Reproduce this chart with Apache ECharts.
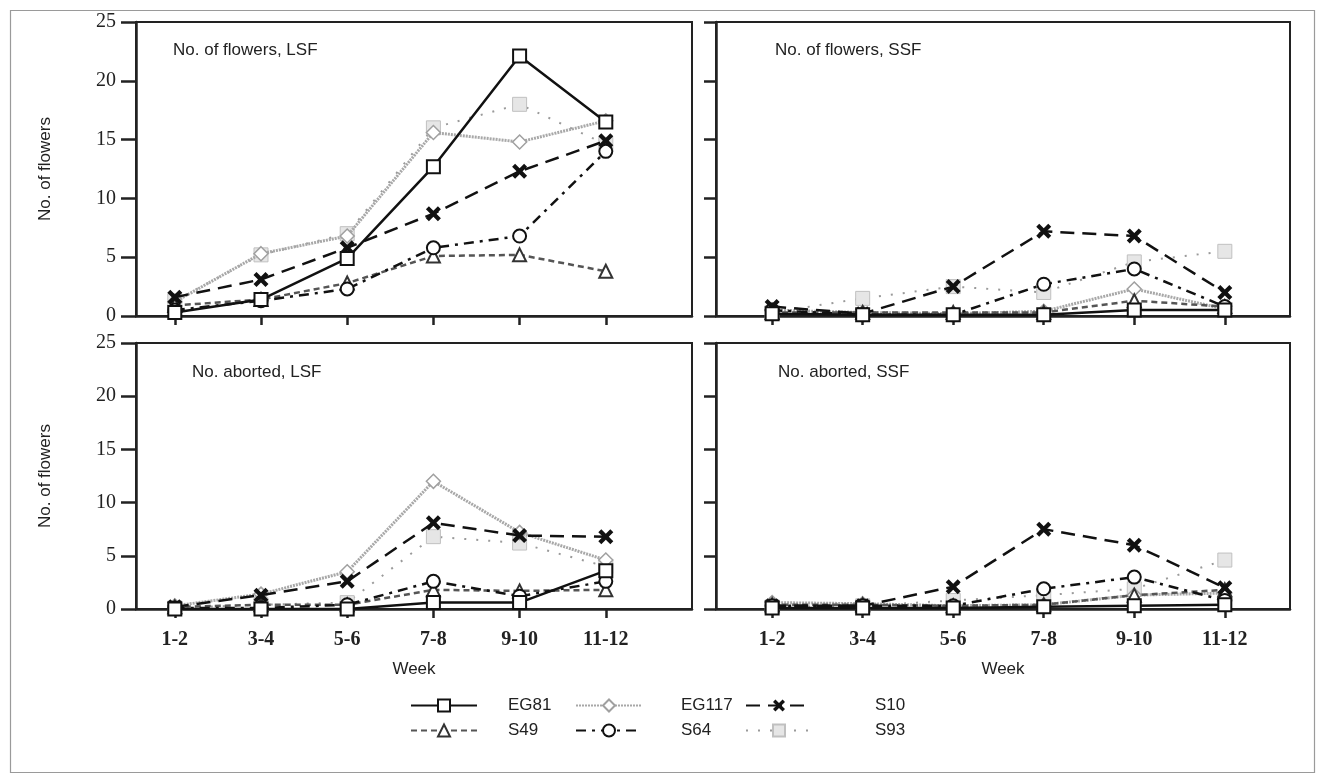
<!DOCTYPE html>
<html>
<head>
    <meta charset="utf-8">
    <title>No. of flowers and aborted flowers, LSF / SSF</title>
    <script src="https://cdn.jsdelivr.net/npm/echarts@6/dist/echarts.min.js"></script>
    <style type="text/css">
        html, body { margin: 0; padding: 0; background: #fff; }
        #main { width: 1319px; height: 779px; }
    </style>
</head>
<body>
    <div id="main"></div>
    <script type="text/javascript">
        // week classes on the x axis
        var weeks = ['1-2', '3-4', '5-6', '7-8', '9-10', '11-12'];
        var yTicks = [0, 5, 10, 15, 20, 25];
        var genotypes = ['EG81', 'EG117', 'S10', 'S49', 'S64', 'S93'];

        // values, one array per genotype
        var flowersLSF = {
            EG81:  [0.3, 1.4, 4.9, 12.7, 22.1, 16.5],
            EG117: [1.2, 5.3, 6.8, 15.6, 14.8, 16.6],
            S10:   [1.6, 3.1, 5.8, 8.7, 12.3, 14.9],
            S49:   [0.9, 1.4, 2.8, 5.1, 5.2, 3.8],
            S64:   [0.5, 1.3, 2.3, 5.8, 6.8, 14.0],
            S93:   [1.3, 5.2, 7.0, 16.0, 18.0, 14.6]
        };
        var flowersSSF = {
            EG81:  [0.2, 0.1, 0.1, 0.1, 0.5, 0.5],
            EG117: [0.5, 0.3, 0.2, 0.4, 2.3, 0.6],
            S10:   [0.8, 0.2, 2.5, 7.2, 6.8, 2.0],
            S49:   [0.3, 0.3, 0.3, 0.3, 1.3, 0.8],
            S64:   [0.5, 0.1, 0.1, 2.7, 4.0, 0.8],
            S93:   [0.3, 1.5, 2.5, 2.0, 4.6, 5.5]
        };
        var abortedLSF = {
            EG81:  [0.0, 0.0, 0.0, 0.6, 0.6, 3.6],
            EG117: [0.3, 1.4, 3.5, 12.0, 7.2, 4.6],
            S10:   [0.2, 1.3, 2.6, 8.1, 6.9, 6.8],
            S49:   [0.2, 0.4, 0.4, 1.8, 1.7, 1.8],
            S64:   [0.1, 0.1, 0.4, 2.6, 1.2, 2.6],
            S93:   [0.1, 0.4, 0.6, 6.8, 6.2, 4.0]
        };
        var abortedSSF = {
            EG81:  [0.1, 0.1, 0.1, 0.2, 0.3, 0.4],
            EG117: [0.6, 0.5, 0.3, 0.4, 1.3, 1.5],
            S10:   [0.3, 0.3, 2.1, 7.5, 6.0, 2.0],
            S49:   [0.4, 0.4, 0.3, 0.4, 1.3, 1.8],
            S64:   [0.3, 0.3, 0.3, 1.9, 3.0, 0.8],
            S93:   [0.2, 0.3, 0.8, 1.3, 1.9, 4.6]
        };

        var panels = [
            { title: 'No. of flowers, LSF', values: flowersLSF, left: 136, top: 22, width: 556, height: 294, xmin: 0.55, xmax: 7.0, labels: false, yLabels: true, tx: 168, ty: 37 },
            { title: 'No. of flowers, SSF', values: flowersSSF, left: 716, top: 22, width: 574, height: 294, xmin: 0.38, xmax: 6.72, labels: false, yLabels: false, tx: 770, ty: 37 },
            { title: 'No. aborted, LSF', values: abortedLSF, left: 136, top: 343, width: 556, height: 266, xmin: 0.55, xmax: 7.0, labels: true, yLabels: true, tx: 187, ty: 359 },
            { title: 'No. aborted, SSF', values: abortedSSF, left: 716, top: 343, width: 574, height: 266, xmin: 0.38, xmax: 6.72, labels: true, yLabels: false, tx: 773, ty: 359 }
        ];

        var xPath = 'path://M2,0 L5,3 L8,0 L10,2 L7,5 L10,8 L8,10 L5,7 L2,10 L0,8 L3,5 L0,2 Z';
        var styles = {
            EG81:  { symbol: 'rect', size: 13, line: { color: '#111', width: 2.5, type: 'solid' }, item: { color: '#fff', borderColor: '#111', borderWidth: 2 }, z: 9 },
            EG117: { symbol: 'diamond', size: 14, line: { color: '#a8a8a8', width: 3, type: [2, 1] }, item: { color: '#fff', borderColor: '#a0a0a0', borderWidth: 1.5 }, z: 4 },
            S10:   { symbol: xPath, size: 15, line: { color: '#111', width: 2.5, type: [14, 8] }, item: { color: '#111', borderWidth: 0 }, z: 8 },
            S49:   { symbol: 'triangle', size: 13, line: { color: '#555', width: 2.5, type: [6, 4] }, item: { color: '#fff', borderColor: '#333', borderWidth: 2 }, z: 6 },
            S64:   { symbol: 'circle', size: 13, line: { color: '#111', width: 2.5, type: [10, 6, 3, 6] }, item: { color: '#fff', borderColor: '#111', borderWidth: 2 }, z: 7 },
            S93:   { symbol: 'rect', size: 14, line: { color: '#9a9a9a', width: 2, type: [2, 10] }, item: { color: '#e6e6e6', borderColor: '#c0c0c0', borderWidth: 1 }, z: 3 }
        };
        var drawOrder = ['S93', 'EG117', 'S49', 'S64', 'S10', 'EG81'];

        var grids = [], xAxes = [], yAxes = [], series = [], titles = [];
        panels.forEach(function (p, i) {
            grids.push({ left: p.left, top: p.top, width: p.width, height: p.height, show: true, borderColor: '#222', borderWidth: 2 });
            titles.push({ text: p.title, left: p.tx, top: p.ty, textStyle: { fontFamily: 'Liberation Sans', fontWeight: 'normal', fontSize: 17, color: '#222' } });
            xAxes.push({
                gridIndex: i, type: 'value', min: p.xmin, max: p.xmax,
                name: p.labels ? 'Week' : '', nameLocation: 'middle', nameGap: 52,
                nameTextStyle: { fontFamily: 'Liberation Sans', fontSize: 17, color: '#222' },
                splitLine: { show: false },
                axisLine: { lineStyle: { color: '#222', width: 2.5 } },
                axisTick: { show: true, length: 9, inside: false, customValues: [1, 2, 3, 4, 5, 6], lineStyle: { color: '#222', width: 2.5 } },
                axisLabel: {
                    show: p.labels, customValues: [1, 2, 3, 4, 5, 6], margin: 21,
                    fontFamily: 'Liberation Serif', fontWeight: 'bold', fontSize: 20, color: '#222',
                    formatter: function (v) { return weeks[Math.round(v) - 1] || ''; }
                }
            });
            yAxes.push({
                gridIndex: i, type: 'value', min: 0, max: 25, interval: 5,
                name: p.yLabels ? 'No. of flowers' : '', nameLocation: 'middle', nameGap: 82,
                nameTextStyle: { fontFamily: 'Liberation Sans', fontSize: 17, color: '#222' },
                splitLine: { show: false },
                axisLine: { lineStyle: { color: '#222', width: 2.5 } },
                axisTick: { show: true, length: p.yLabels ? 15 : 12, lineStyle: { color: '#222', width: 2.5 } },
                axisLabel: {
                    show: p.yLabels, margin: 20, fontFamily: 'Liberation Serif', fontSize: 20, color: '#222',
                    customValues: yTicks
                }
            });
            drawOrder.forEach(function (g) {
                var s = styles[g];
                series.push({
                    name: g, type: 'line', xAxisIndex: i, yAxisIndex: i,
                    data: p.values[g].map(function (v, k) { return [k + 1, v]; }),
                    symbol: s.symbol, symbolSize: s.size, showAllSymbol: true,
                    lineStyle: s.line, itemStyle: s.item, z: s.z,
                    animation: false, clip: false
                });
            });
        });

        // legend: two rows of three, one legend component per entry
        var legendPos = {
            EG81: [405, 692, 26], EG117: [570, 692, 34], S10: [740, 692, 58],
            S49: [405, 717, 26], S64: [570, 717, 34], S93: [740, 717, 58]
        };
        var legends = genotypes.map(function (g) {
            return {
                data: [g], left: legendPos[g][0], top: legendPos[g][1],
                itemWidth: 66, itemHeight: 15, selectedMode: false,
                textStyle: { fontFamily: 'Liberation Sans', fontSize: 17, color: '#222', padding: [0, 0, 0, legendPos[g][2]] }
            };
        });

        var chart = echarts.init(document.getElementById('main'));
        var option = {
            backgroundColor: '#fff',
            animation: false,
            title: titles,
            legend: legends,
            grid: grids,
            xAxis: xAxes,
            yAxis: yAxes,
            series: series,
            graphic: [{
                type: 'rect', left: 8, top: 8,
                shape: { width: 1304, height: 762 },
                style: { fill: 'none', stroke: '#9a9a9a', lineWidth: 1.2 },
                silent: true
            }]
        };
        chart.setOption(option);
    </script>
</body>
</html>
